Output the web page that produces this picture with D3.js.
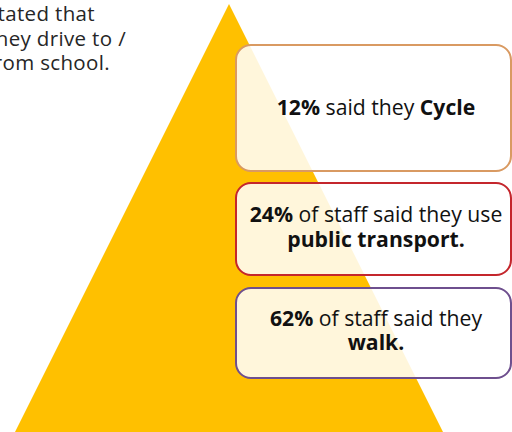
<!DOCTYPE html>
<html>
<head>
<meta charset="utf-8">
<script src="https://cdn.jsdelivr.net/npm/d3@7"></script>
<style>
  html, body { margin: 0; padding: 0; background: #fff; overflow: hidden; }
  svg { display: block; }
</style>
</head>
<body>
<script>
// Travel-to-school survey of staff: share of staff by mode
const modes = ["Cycle", "public transport.", "walk."];
const shares = [12, 24, 62];
const boxColors = ["#D99A62", "#C4262C", "#6E4F8E"];
// Text segments for each callout (bold flag marks emphasised words)
const calloutLines = [
  [[{ t: shares[0] + "%", b: true }, { t: " said they " }, { t: modes[0], b: true }]],
  [[{ t: shares[1] + "%", b: true }, { t: " of staff said they use" }],
   [{ t: modes[1], b: true }]],
  [[{ t: shares[2] + "%", b: true }, { t: " of staff said they" }],
   [{ t: modes[2], b: true }]]
];
const introLines = ["stated that", "they drive to /", "from school."];

const W = 512, H = 432;
const font = "'Open Sans', sans-serif";

const svg = d3.select("body").append("svg")
  .attr("width", W).attr("height", H);

// Pyramid
const tri = d3.path();
tri.moveTo(229, 4);
tri.lineTo(443 + 8, 432 + 16);
tri.lineTo(15 - 8, 432 + 16);
tri.closePath();
svg.append("path").attr("d", tri.toString()).attr("fill", "#FFC000");

// Intro text, right-aligned, running off the left edge of the page
const introEnds = [95, 126, 110];
const intro = svg.append("text")
  .attr("font-family", font).attr("font-size", 20.5).attr("fill", "#262626")
  .attr("letter-spacing", 0.35)
  .attr("text-anchor", "end");
intro.selectAll("tspan").data(introLines).join("tspan")
  .attr("x", (d, i) => introEnds[i])
  .attr("y", (d, i) => 21 + i * 24.5)
  .text(d => d);

// Callout boxes
const boxes = [
  { y: 45, h: 126, base: [115] },
  { y: 183, h: 92, base: [222, 247] },
  { y: 288, h: 90, base: [326, 350] }
];
const bx = 236, bw = 275, cx = 376;

const g = svg.selectAll("g.callout").data(boxes).join("g").attr("class", "callout");
g.append("rect")
  .attr("x", bx).attr("y", d => d.y)
  .attr("width", bw).attr("height", d => d.h)
  .attr("rx", 15).attr("ry", 15)
  .attr("fill", "#fff").attr("fill-opacity", 0.86)
  .attr("stroke", (d, i) => boxColors[i]).attr("stroke-width", 2);

g.each(function (d, i) {
  const t = d3.select(this).append("text")
    .attr("text-anchor", "middle")
    .attr("font-family", font).attr("font-size", 21.2)
    .attr("fill", "#111")
    .attr("xml:space", "preserve");
  calloutLines[i].forEach((segs, li) => {
    segs.forEach((s, si) => {
      const ts = t.append("tspan")
        .attr("font-weight", s.b ? 700 : 400)
        .text(s.t);
      if (si === 0) ts.attr("x", cx).attr("y", d.base[li]);
    });
  });
});
</script>
</body>
</html>
